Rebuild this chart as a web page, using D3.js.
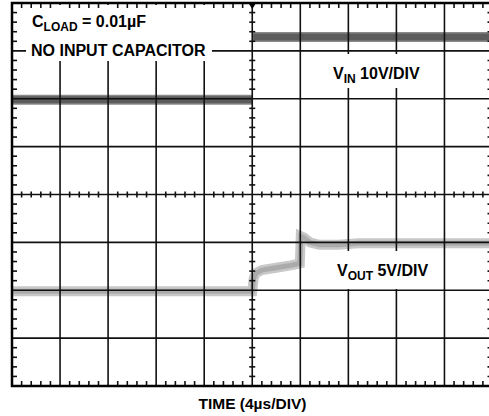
<!DOCTYPE html>
<html>
<head>
<meta charset="utf-8">
<script src="https://cdn.jsdelivr.net/npm/d3@7"></script>
<style>
  html, body { margin: 0; padding: 0; background: #fff; }
  svg { display: block; font-family: "Liberation Sans", Arial, sans-serif; font-weight: bold; }
</style>
</head>
<body>
<svg id="chart" width="489" height="416"></svg>
<script>
// ---- data (time and level in scope divisions) ----
const xDivisions = d3.range(0, 11);     // 10 horizontal divisions
const yDivisions = d3.range(0, 9);      // 8 vertical divisions
const minorPerDiv = 5;

// VIN trace (10V/DIV) — step at t = 5 div; null breaks the fast edge
const vinTime  = [0, 5.0, 5.0, 5.02, 10];
const vinLevel = [5.98, 5.98, null, 7.29, 7.29];

// VOUT trace (5V/DIV)
const voutTime  = [0, 5.0, 5.03, 5.08, 5.2, 5.5, 5.8, 5.99, 6.01, 6.08, 6.2, 6.4, 6.8, 7.2, 10];
const voutLevel = [1.98, 1.98, 2.25, 2.36, 2.42, 2.47, 2.52, 2.56, 3.13, 3.1, 3.0, 2.95, 2.95, 2.98, 2.98];

// labels
const titleParts = ["C", "LOAD", " = 0.01µF"];
const noteText = "NO INPUT CAPACITOR";
const vinLabel = ["V", "IN", " 10V/DIV"];
const voutLabel = ["V", "OUT", " 5V/DIV"];
const xAxisLabel = "TIME (4µs/DIV)";

// ---- layout ----
const svg = d3.select("#chart");
const x = d3.scaleLinear().domain([0, 10]).range([12, 492.5]);
const y = d3.scaleLinear().domain([0, 8]).range([386, 3]);

const gTrace = svg.append("g");
const gGrid = svg.append("g");
const gText = svg.append("g");

// traces
const line = d3.line()
  .defined(d => d[1] !== null)
  .x(d => x(d[0])).y(d => y(d[1]));

const vinData = vinTime.map((t, i) => [t, vinLevel[i]]);
const voutData = voutTime.map((t, i) => [t, voutLevel[i]]);

gTrace.append("path").datum(voutData).attr("d", line)
  .attr("fill", "none").attr("stroke", "#c8c8c8").attr("stroke-width", 10);
gTrace.append("path").datum(voutData).attr("d", line)
  .attr("fill", "none").attr("stroke", "#ababab").attr("stroke-width", 5);

gTrace.append("path").datum(vinData).attr("d", line)
  .attr("fill", "none").attr("stroke", "#8a8a8a").attr("stroke-width", 10);
gTrace.append("path").datum(vinData).attr("d", line)
  .attr("fill", "none").attr("stroke", "#5c5c5c").attr("stroke-width", 7);

// grid lines
gGrid.selectAll("line.v").data(xDivisions.slice(1, -1)).join("line")
  .attr("class", "v")
  .attr("x1", d => x(d)).attr("x2", d => x(d))
  .attr("y1", y(8)).attr("y2", y(0))
  .attr("stroke", "#111").attr("stroke-width", 1.6);
gGrid.selectAll("line.h").data(yDivisions.slice(1, -1)).join("line")
  .attr("class", "h")
  .attr("x1", x(0)).attr("x2", x(10))
  .attr("y1", d => y(d)).attr("y2", d => y(d))
  .attr("stroke", "#111").attr("stroke-width", 1.6);

// white boxes behind labels (hide grid)
const boxes = [[26, 5, 186, 56], [329, 54, 96, 34], [333, 251, 100, 38]];
gGrid.selectAll("rect.box").data(boxes).join("rect").attr("class", "box")
  .attr("x", d => d[0]).attr("y", d => d[1]).attr("width", d => d[2]).attr("height", d => d[3])
  .attr("fill", "#fff");

// minor ticks
const xMinor = d3.range(0, 10 * minorPerDiv + 1).map(i => i / minorPerDiv).filter(v => Math.abs(v - Math.round(v)) > 1e-6);
const yMinor = d3.range(0, 8 * minorPerDiv + 1).map(i => i / minorPerDiv).filter(v => Math.abs(v - Math.round(v)) > 1e-6);
const tickCol = "#111", tw = 1.6;

gGrid.selectAll("line.tt").data(xMinor).join("line").attr("class", "tt")
  .attr("x1", d => x(d)).attr("x2", d => x(d)).attr("y1", y(8)).attr("y2", y(8) + 5)
  .attr("stroke", tickCol).attr("stroke-width", tw);
gGrid.selectAll("line.tb").data(xMinor).join("line").attr("class", "tb")
  .attr("x1", d => x(d)).attr("x2", d => x(d)).attr("y1", y(0)).attr("y2", y(0) - 5)
  .attr("stroke", tickCol).attr("stroke-width", tw);
gGrid.selectAll("line.tc").data(xMinor).join("line").attr("class", "tc")
  .attr("x1", d => x(d)).attr("x2", d => x(d)).attr("y1", y(4) - 3).attr("y2", y(4) + 3)
  .attr("stroke", tickCol).attr("stroke-width", tw);
gGrid.selectAll("line.tl").data(yMinor).join("line").attr("class", "tl")
  .attr("x1", x(0)).attr("x2", x(0) + 5).attr("y1", d => y(d)).attr("y2", d => y(d))
  .attr("stroke", tickCol).attr("stroke-width", tw);
gGrid.selectAll("line.tr").data(yMinor).join("line").attr("class", "tr")
  .attr("x1", x(10)).attr("x2", x(10) - 5).attr("y1", d => y(d)).attr("y2", d => y(d))
  .attr("stroke", tickCol).attr("stroke-width", tw);
gGrid.selectAll("line.tv").data(yMinor).join("line").attr("class", "tv")
  .attr("x1", x(5) - 3).attr("x2", x(5) + 3).attr("y1", d => y(d)).attr("y2", d => y(d))
  .attr("stroke", tickCol).attr("stroke-width", tw);

// frame
gGrid.append("rect").attr("x", x(0)).attr("y", y(8))
  .attr("width", x(10) - x(0)).attr("height", y(0) - y(8))
  .attr("fill", "none").attr("stroke", "#000").attr("stroke-width", 2.5);

// trigger marker
gGrid.append("path")
  .attr("d", `M${x(5) - 4.5},${y(8) - 1} L${x(5) + 4.5},${y(8) - 1} L${x(5)},${y(8) + 6} Z`)
  .attr("fill", "#000");

// texts
function subText(g, parts, px, py, size, subSize) {
  const t = g.append("text").attr("x", px).attr("y", py).attr("font-size", size).attr("fill", "#000");
  t.append("tspan").text(parts[0]);
  t.append("tspan").attr("font-size", subSize).attr("dy", 4).text(parts[1]);
  t.append("tspan").attr("dy", -4).text(parts[2]);
  return t;
}
subText(gText, titleParts, 32, 27, 16, 12);
gText.append("text").attr("x", 31).attr("y", 56).attr("font-size", 16).text(noteText);
subText(gText, vinLabel, 333, 79, 16, 12);
subText(gText, voutLabel, 337, 276, 16, 12);
gText.append("text").attr("x", 252.5).attr("y", 409).attr("text-anchor", "middle")
  .attr("font-size", 15.5).text(xAxisLabel);
</script>
</body>
</html>
